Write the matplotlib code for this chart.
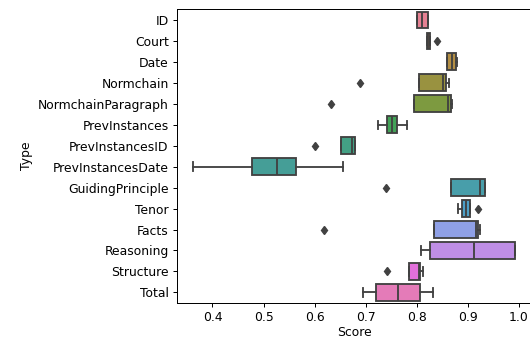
import colorsys
import matplotlib
matplotlib.use("Agg")
import matplotlib.pyplot as plt
import seaborn as sns

# Categories (top to bottom) and box statistics
types = ["ID", "Court", "Date", "Normchain", "NormchainParagraph",
         "PrevInstances", "PrevInstancesID", "PrevInstancesDate",
         "GuidingPrinciple", "Tenor", "Facts", "Reasoning", "Structure", "Total"]
q1 = [0.800, 0.820, 0.860, 0.805, 0.795, 0.742, 0.652, 0.478,
      0.867, 0.890, 0.835, 0.826, 0.786, 0.720]
med = [0.811, 0.823, 0.869, 0.852, 0.861, 0.752, 0.674, 0.526,
       0.924, 0.897, 0.916, 0.913, 0.805, 0.764]
q3 = [0.822, 0.826, 0.877, 0.858, 0.867, 0.761, 0.680, 0.563,
      0.935, 0.904, 0.921, 0.993, 0.807, 0.806]
whislo = [0.800, 0.820, 0.860, 0.805, 0.795, 0.724, 0.652, 0.362,
          0.867, 0.882, 0.835, 0.808, 0.786, 0.695]
whishi = [0.822, 0.826, 0.880, 0.863, 0.869, 0.782, 0.680, 0.656,
          0.935, 0.904, 0.925, 0.993, 0.812, 0.833]
fliers = [[], [0.841], [], [0.690], [0.632], [], [0.601], [],
          [0.740], [0.921], [0.619], [], [0.742], []]

s = 0.89  # the reference looks rendered slightly smaller than default
plt.rcParams.update({
    "font.size": 10 * s,
    "axes.linewidth": 0.8 * s,
    "xtick.major.size": 3.5 * s, "ytick.major.size": 3.5 * s,
    "xtick.major.width": 0.8 * s, "ytick.major.width": 0.8 * s,
    "xtick.major.pad": 3.2 * s, "ytick.major.pad": 3.5 * s,
    "axes.labelpad": 4.0 * s,
})

# seaborn-style colours: husl palette, desaturated, gray outlines
colors = [sns.desaturate(c, 0.75) for c in sns.color_palette("husl", len(types))]
lum = min(colorsys.rgb_to_hls(*c)[1] for c in colors) * 0.6
gray = (lum, lum, lum)

stats = []
for i, name in enumerate(types):
    stats.append(dict(label=name, q1=q1[i], med=med[i], q3=q3[i],
                      whislo=whislo[i], whishi=whishi[i], fliers=fliers[i]))

fig = plt.figure(figsize=(5.3, 3.38), dpi=100)
ax = fig.add_axes([0.3345, 0.104, 0.6677, 0.868])

lw = 1.5 * s
bp = ax.bxp(stats, positions=range(len(types)), widths=0.8,
            orientation="horizontal", patch_artist=True,
            boxprops=dict(edgecolor=gray, linewidth=lw),
            medianprops=dict(color=gray, linewidth=lw),
            whiskerprops=dict(color=gray, linewidth=lw),
            capprops=dict(color=gray, linewidth=lw),
            flierprops=dict(marker="d", markersize=5 * s, markerfacecolor=gray,
                            markeredgecolor=gray))
for patch, c in zip(bp["boxes"], colors):
    patch.set_facecolor(c)

ax.set_ylim(len(types) - 0.5, -0.5)
ax.set_xlim(0.331, 1.0246)
ax.set_xticks([0.4, 0.5, 0.6, 0.7, 0.8, 0.9, 1.0])
ax.set_xticklabels(["0.4", "0.5", "0.6", "0.7", "0.8", "0.9", "1.0"])
ax.set_yticks(range(len(types)))
ax.set_yticklabels(types)
ax.set_xlabel("Score", labelpad=1.0)
ax.set_ylabel("Type")

fig.savefig("out.png", dpi=100)
